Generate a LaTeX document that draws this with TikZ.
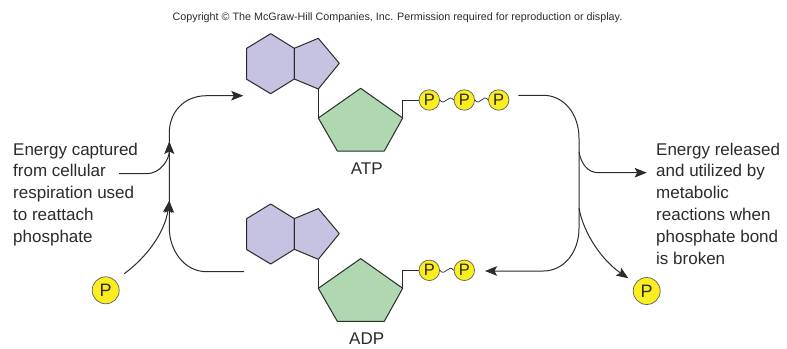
\documentclass[tikz,border=0pt]{standalone}
\usepackage{fontspec}
\setmainfont{Liberation Sans}
\usetikzlibrary{arrows.meta,calc}
\definecolor{ink}{HTML}{2B2B2B}
\definecolor{purp}{HTML}{C5C3E1}
\definecolor{grn}{HTML}{AFD8B0}
\definecolor{yel}{HTML}{FBEE1F}
\tikzset{
  x=1pt,y=-1pt,
  ring/.style={draw=ink,line width=1pt,line join=round},
  purpring/.style={ring,fill=purp},
  greenring/.style={ring,fill=grn},
  link/.style={draw=ink,line width=1pt},
  flow/.style={draw=ink,line width=1pt,-{Stealth[length=12pt,width=9.5pt,inset=2.5pt]}},
  plain/.style={draw=ink,line width=1pt},
  wave/.style={draw=ink,line width=0.7pt},
  phos/.style={circle,draw=ink!75,line width=0.7pt,fill=yel,inner sep=0pt,minimum size=20.5pt,font=\fontsize{16.5}{16.5}\selectfont,text=ink},
  bigphos/.style={phos,minimum size=27pt,font=\fontsize{18}{18}\selectfont},
  label/.style={inner sep=0pt,text=ink,font=\fontsize{17}{17}\selectfont},
  para/.style={inner sep=0pt,text=ink,align=left,anchor=north west,font=\fontsize{17}{21.9}\selectfont},
}
\begin{document}
\begin{tikzpicture}
\useasboundingbox (0,0) rectangle (787,348);
\fill[white] (0,0) rectangle (787,348);
\node[inner sep=0pt,text=ink,font=\fontsize{10.75}{12}\selectfont] (copy) at (397.5,17.5) {Copyright © The McGraw-Hill Companies, Inc. Permission required for reproduction or display.};

% ATP molecule
\coordinate (ha) at (270.7,33.7);
\coordinate (hb) at (294.3,48.3);
\coordinate (hc) at (294.3,79);
\coordinate (hd) at (270.7,93.7);
\coordinate (he) at (246.7,79.3);
\coordinate (hf) at (246.7,48.3);
\coordinate (pa) at (318.3,38.3);
\coordinate (pb) at (339.3,63.3);
\coordinate (pc) at (318.3,89);
\coordinate (ga) at (360.7,88.3);
\coordinate (gb) at (402.7,118);
\coordinate (gc) at (384.3,151);
\coordinate (gd) at (337.3,151);
\coordinate (ge) at (318.3,118);
\path[purpring] (ha)--(hb)--(hc)--(hd)--(he)--(hf)--cycle;
\path[purpring] (hb)--(pa)--(pb)--(pc)--(hc)--cycle;
\path[greenring] (ga)--(gb)--(gc)--(gd)--(ge)--cycle;
\draw[link] (pc)--(ge);
\node[phos] (p1) at (429.3,100) {P};
\node[phos] (p2) at (464.3,100) {P};
\node[phos] (p3) at (498.7,100) {P};
\draw[link] (gb)|-(p1);
\draw[wave] (p1.east) .. controls ($(p1.east)+(5,7)$) and ($(p2.west)+(-5,-7)$) .. (p2.west);
\draw[wave] (p2.east) .. controls ($(p2.east)+(5,7)$) and ($(p3.west)+(-5,-7)$) .. (p3.west);
\node[label] (atp) at (366.7,168.5) {ATP};

% ADP molecule
\begin{scope}[yshift=-170.3pt]
\coordinate (xha) at (270.7,33.7);
\coordinate (xhb) at (294.3,48.3);
\coordinate (xhc) at (294.3,79);
\coordinate (xhd) at (270.7,93.7);
\coordinate (xhe) at (246.7,79.3);
\coordinate (xhf) at (246.7,48.3);
\coordinate (xpa) at (318.3,38.3);
\coordinate (xpb) at (339.3,63.3);
\coordinate (xpc) at (318.3,89);
\coordinate (xga) at (360.7,88.3);
\coordinate (xgb) at (402.7,118);
\coordinate (xgc) at (384.3,151);
\coordinate (xgd) at (337.3,151);
\coordinate (xge) at (318.3,118);
\end{scope}
\path[purpring] (xha)--(xhb)--(xhc)--(xhd)--(xhe)--(xhf)--cycle;
\path[purpring] (xhb)--(xpa)--(xpb)--(xpc)--(xhc)--cycle;
\path[greenring] (xga)--(xgb)--(xgc)--(xgd)--(xge)--cycle;
\draw[link] (xpc)--(xge);
\node[phos] (q1) at (429.3,270.3) {P};
\node[phos] (q2) at (464.3,270.3) {P};
\draw[link] (xgb)|-(q1);
\draw[wave] (q1.east) .. controls ($(q1.east)+(5,7)$) and ($(q2.west)+(-5,-7)$) .. (q2.west);
\node[label] (adp) at (366.7,338.5) {ADP};

% free phosphates
\node[bigphos] (pl) at (105.7,290.3) {P};
\node[bigphos] (pr) at (646.7,291) {P};

% texts
\node[para] (left) at (13,142.5) {Energy captured\\from cellular\\respiration used\\to reattach\\phosphate};
\node[para] (right) at (656,142.5) {Energy released\\and utilized by\\metabolic\\reactions when\\phosphate bond\\is broken};

% left connectors
\coordinate (lbot) at (244,271.7);
\coordinate (ltop) at (243.3,95.7);
\coordinate (lin) at (119,173.7);
\coordinate (lstart) at (124.3,273.7);
\coordinate (ljoin) at (169.3,141.7);
\coordinate (ljoinb) at (169.3,200.7);
\draw[plain] (lbot) -- (206.7,271.7) .. controls (184,271.7) and (169.3,250) .. (169.3,228) -- (169.3,133);
\draw[flow] (169.3,133) .. controls (169.3,112) and (184,95.7) .. (206.7,95.7) -- (ltop);
\draw[flow] (lin) -- (146.7,173.7) .. controls (160,173.7) and (169.3,160) .. (ljoin);
\draw[flow] (lstart) .. controls (147,257) and (165,232) .. (ljoinb);
\draw[flow] (169.3,210) -- (ljoinb);
\draw[flow] (169.3,150) -- (ljoin);

% right connectors
\coordinate (rstart) at (518.3,95.3);
\coordinate (rend) at (485,271);
\coordinate (rout) at (646.7,172.7);
\coordinate (rtip) at (628.3,278.3);
\draw[flow] (rstart) -- (543.3,95.3) .. controls (564,95.3) and (579,114) .. (579,138.3) -- (579,228.3) .. controls (579,252) and (564,271) .. (543.3,271) -- (rend);
\draw[flow] (579,151.7) .. controls (581,164) and (588,172.7) .. (598.3,172.7) -- (rout);
\draw[flow] (579,208.3) .. controls (584,235) and (603,261) .. (rtip);
\end{tikzpicture}
\end{document}
